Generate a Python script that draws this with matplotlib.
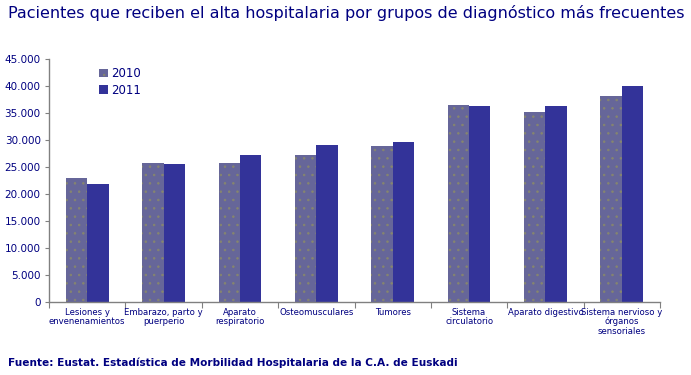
import numpy as np
import matplotlib.pyplot as plt
from matplotlib.ticker import FuncFormatter

categories = ['Lesiones y\nenvenenamientos', 'Embarazo, parto y\npuerperio',
              'Aparato\nrespiratorio', 'Osteomusculares', 'Tumores',
              'Sistema\ncirculatorio', 'Aparato digestivo',
              'Sistema nervioso y\nórganos\nsensoriales']
v2010 = [22960, 25740, 25740, 27220, 28890, 36480, 35190, 38150]
v2011 = [21850, 25560, 27220, 29070, 29630, 36300, 36300, 40000]

navy = '#000080'
c2010 = '#666699'
c2011 = '#333399'

fig = plt.figure(figsize=(6.91, 3.75), dpi=100)
ax = fig.add_axes([49/691, 1-302/375, 611/691, 243/375])

x = np.arange(len(categories))
w = 0.28
plt.rcParams['hatch.linewidth'] = 0.6
b1 = ax.bar(x - w/2, v2010, w, color=c2010, label='2010', linewidth=0,
            hatch='..', edgecolor='#85856f')
b2 = ax.bar(x + w/2, v2011, w, color=c2011, label='2011', linewidth=0)

ax.set_xlim(-0.5, len(categories) - 0.5)
ax.set_ylim(0, 45000)
ax.set_yticks(np.arange(0, 45001, 5000))
ax.yaxis.set_major_formatter(FuncFormatter(lambda v, p: f'{int(v):,}'.replace(',', '.')))
ax.set_xticks(np.arange(-0.5, len(categories), 1))
ax.set_xticklabels([])
ax.set_xticks(x, minor=True)
ax.set_xticklabels(categories, minor=True, fontsize=6.1, color=navy, linespacing=1.05)
ax.tick_params(axis='x', which='minor', length=0, pad=4)
ax.tick_params(axis='x', which='major', length=4, color='#808080', direction='out')
ax.tick_params(axis='y', length=3, color='#808080', labelsize=7.5, labelcolor=navy, pad=3)

for s in ['top', 'right']:
    ax.spines[s].set_visible(False)
for s in ['left', 'bottom']:
    ax.spines[s].set_color('#808080')
    ax.spines[s].set_linewidth(1)

ax.legend(loc='upper left', bbox_to_anchor=(0.065, 1.01), frameon=False,
          fontsize=8.5, handlelength=0.7, handleheight=0.7, handletextpad=0.3,
          labelspacing=0.3, labelcolor=navy)

fig.text(8/691, 1-13/375, 'Pacientes que reciben el alta hospitalaria por grupos de diagnóstico más frecuentes',
         fontsize=11.5, color=navy, va='center', ha='left')
fig.text(8/691, 1-363/375, 'Fuente: Eustat. Estadística de Morbilidad Hospitalaria de la C.A. de Euskadi',
         fontsize=7.6, color=navy, fontweight='bold', va='center', ha='left')

fig.savefig('out.png', dpi=100)
